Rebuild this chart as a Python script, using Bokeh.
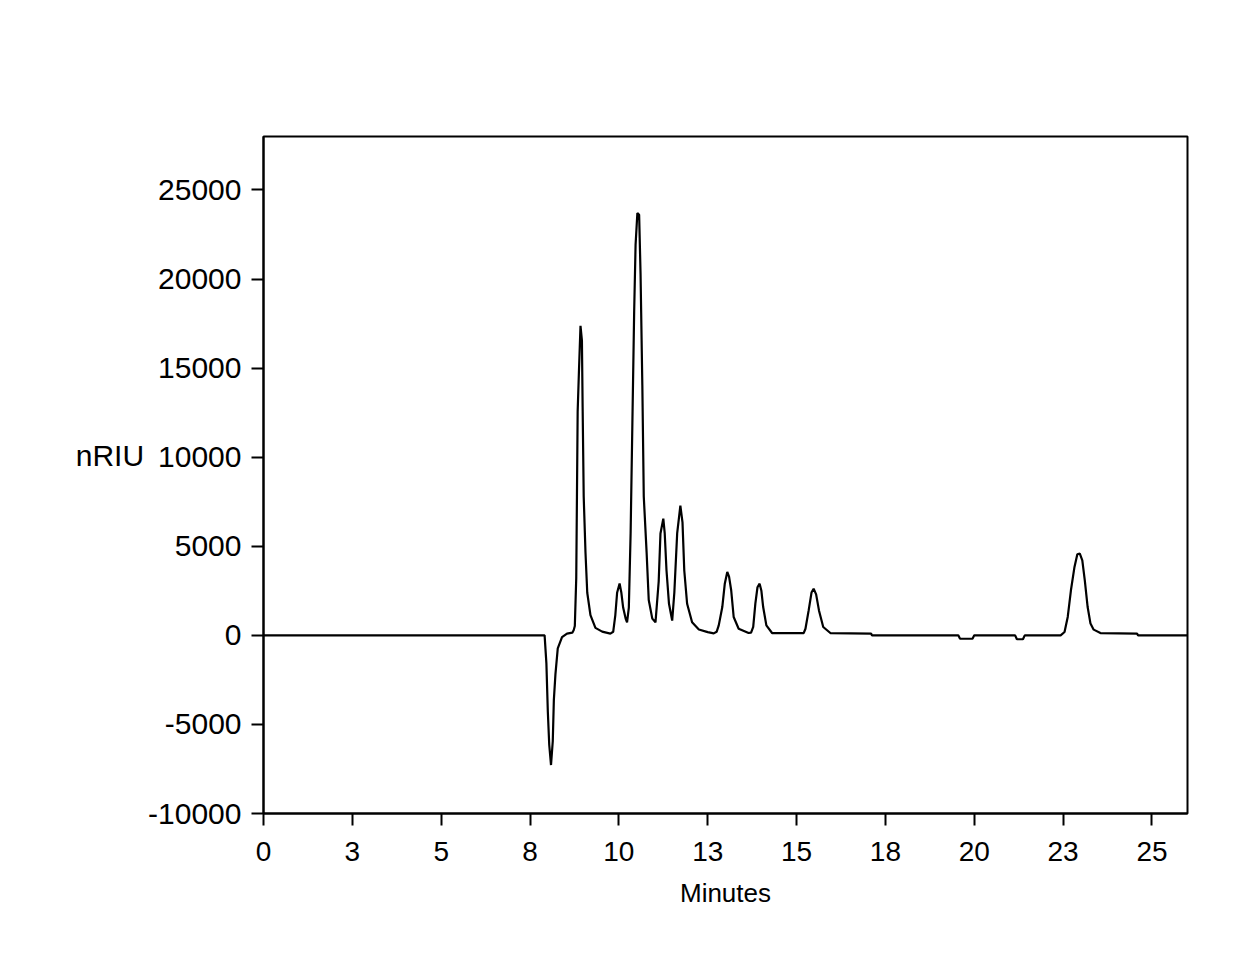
from bokeh.plotting import figure
from bokeh.models import Range1d, FixedTicker
from bokeh.embed import file_html
from bokeh.resources import INLINE

# Chromatogram trace
time_min = [0.0, 7.91, 7.96, 8.00, 8.04, 8.09, 8.14, 8.17, 8.215, 8.28, 8.40, 8.54, 8.69, 8.73,
            8.76, 8.80, 8.82, 8.84, 8.88, 8.92, 8.96, 8.98, 9.01, 9.06, 9.11, 9.20, 9.34, 9.53, 9.76, 9.84,
            9.90, 9.95, 10.02, 10.07, 10.12, 10.19, 10.23,
            10.28, 10.33, 10.38, 10.43, 10.47, 10.52, 10.57, 10.61, 10.66, 10.70, 10.78, 10.84, 10.94, 11.03,
            11.12, 11.17, 11.25, 11.29, 11.34, 11.41, 11.50,
            11.56, 11.64, 11.73, 11.79, 11.84, 11.92, 12.06, 12.25, 12.50, 12.67,
            12.75, 12.81, 12.91, 12.98, 13.05, 13.10, 13.16, 13.23, 13.37, 13.65,
            13.72, 13.78, 13.84, 13.90, 13.96, 14.01, 14.06, 14.15, 14.31,
            15.20, 15.25, 15.34, 15.42, 15.48, 15.55, 15.63, 15.75, 15.95, 17.10, 17.12,
            19.55, 19.60, 19.66, 19.89, 19.95, 20.00,
            21.15, 21.20, 21.37, 21.42,
            22.43, 22.54, 22.63, 22.72, 22.82, 22.90, 22.97, 23.04, 23.11, 23.19, 23.27, 23.36, 23.55,
            24.58, 24.61, 26.0]
signal_nriu = [0, 0, -1560, -4260, -6140, -7280, -5930, -3640, -2180, -730, -100, 100, 150, 300,
               520, 3200, 7800, 12570, 15060, 17370, 16540, 12800, 7800, 4660, 2390, 1140, 420, 210, 100, 200,
               1140, 2390, 2910, 2390, 1560, 940, 730,
               1560, 5720, 11950, 18180, 21930, 23700, 23600, 20260, 14040, 7800, 4660, 1980, 940, 730,
               3020, 5720, 6550, 5720, 3640, 1770, 830,
               2390, 5720, 7280, 6340, 3640, 1770, 730, 330, 180, 110,
               200, 560, 1590, 2900, 3560, 3300, 2530, 1030, 370, 130,
               150, 470, 1780, 2700, 2900, 2500, 1590, 560, 130,
               120, 370, 1400, 2400, 2620, 2300, 1400, 470, 130, 100, 0,
               0, -190, -190, -190, -190, 0,
               0, -220, -220, 0,
               0, 190, 1030, 2530, 3840, 4550, 4590, 4210, 3090, 1590, 660, 320, 130,
               100, 0, 0]

x_tick_values = [0, 2.5, 5, 7.5, 10, 12.5, 15, 17.5, 20, 22.5, 25]
x_tick_labels = ["0", "3", "5", "8", "10", "13", "15", "18", "20", "23", "25"]
y_tick_values = [-10000, -5000, 0, 5000, 10000, 15000, 20000, 25000]
y_tick_labels = ["-10000", "-5000", "0", "5000", "10000", "15000", "20000", "25000"]
x_title = "Minutes"
y_title = "nRIU"

W, H = 1245, 960
FL, FR, FT, FB = 263, 1187, 136, 813
p = figure(width=W, height=H, output_backend="svg", toolbar_location=None,
           x_range=Range1d(0, 26), y_range=Range1d(-10000, 28000),
           min_border_left=FL, min_border_right=W - FR,
           min_border_top=FT, min_border_bottom=H - FB)
p.background_fill_color = "white"
p.border_fill_color = "white"
p.grid.visible = False
p.outline_line_color = "black"
p.outline_line_width = 2
p.outline_line_alpha = 1

p.line(time_min, signal_nriu, line_color="black", line_width=2.2)

FONT = "Liberation Sans"
for ax in (p.xaxis[0], p.yaxis[0]):
    ax.axis_line_color = "black"
    ax.axis_line_width = 2
    ax.major_tick_line_color = "black"
    ax.major_tick_line_width = 2
    ax.major_tick_in = 0
    ax.major_tick_out = 12
    ax.minor_tick_line_color = None
    ax.major_label_text_font = FONT
    ax.major_label_text_color = "black"
    ax.axis_label_text_font = FONT
    ax.axis_label_text_font_style = "normal"
    ax.axis_label_text_color = "black"

p.xaxis.ticker = FixedTicker(ticks=x_tick_values)
p.xaxis.major_label_overrides = {v: l for v, l in zip(x_tick_values, x_tick_labels)}
p.xaxis.major_label_text_font_size = "28px"
p.xaxis.major_label_standoff = 16
p.xaxis.axis_label = x_title
p.xaxis.axis_label_text_font_size = "26px"
p.xaxis.axis_label_standoff = 14

p.yaxis.ticker = FixedTicker(ticks=y_tick_values)
p.yaxis.major_label_overrides = {v: l for v, l in zip(y_tick_values, y_tick_labels)}
p.yaxis.major_label_text_font_size = "30px"
p.yaxis.major_label_standoff = 10
p.yaxis.axis_label = y_title + "\n"
p.yaxis.axis_label_orientation = "horizontal"
p.yaxis.axis_label_text_font_size = "30px"
p.yaxis.axis_label_standoff = 1

open("out.html", "w").write(file_html(p, INLINE))
